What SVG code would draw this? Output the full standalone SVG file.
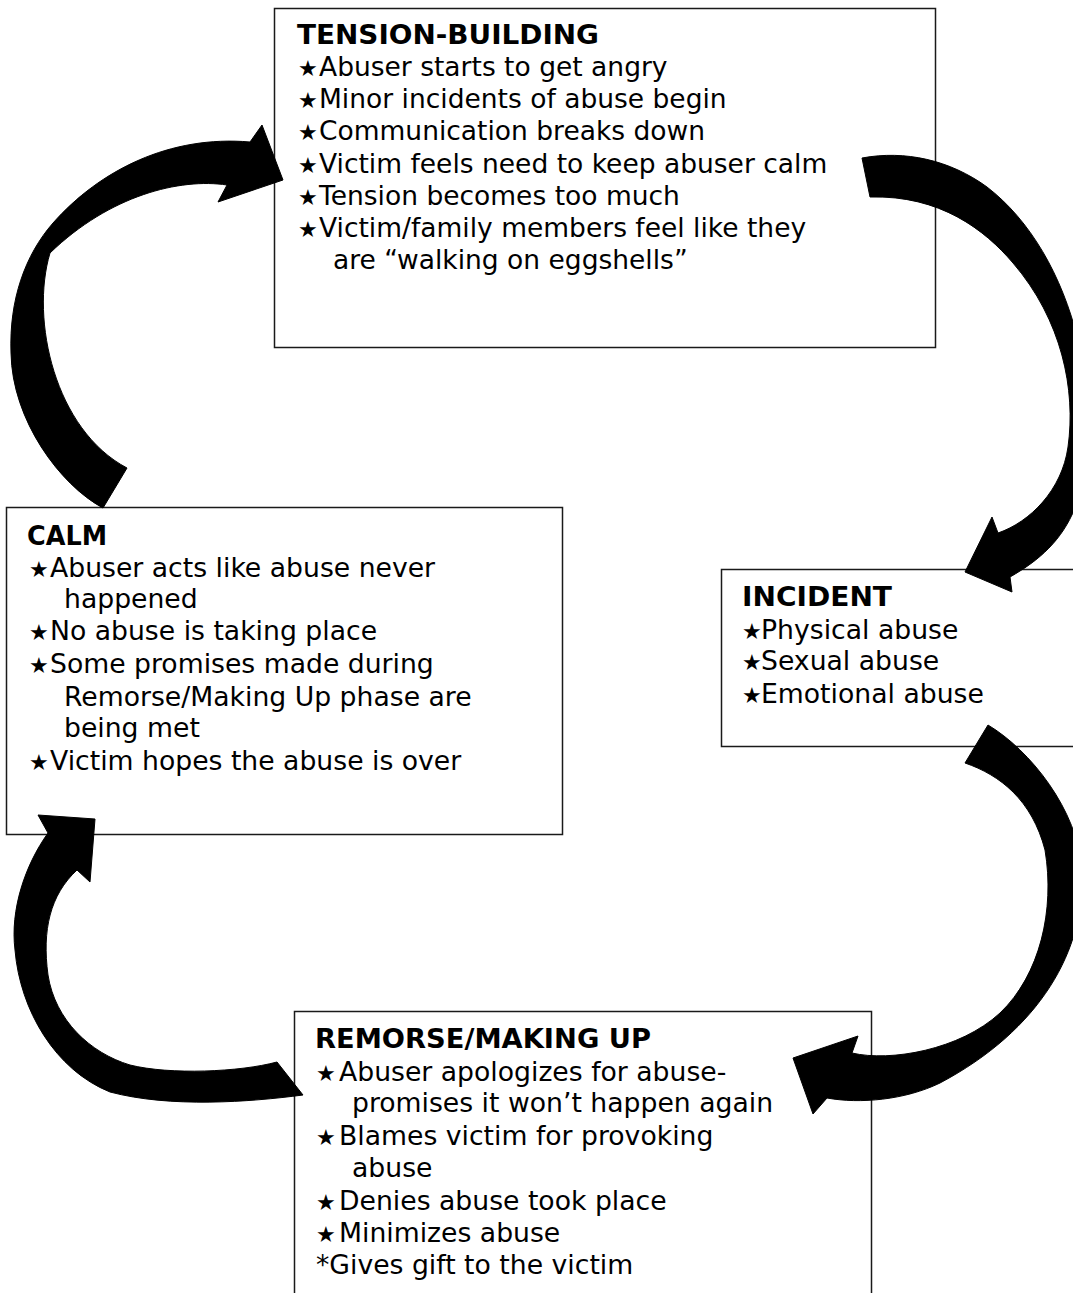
<svg xmlns="http://www.w3.org/2000/svg" width="1073" height="1293" viewBox="0 0 1073 1293">
  <style>
    .box { fill: #ffffff; stroke: #1a1a1a; stroke-width: 1.5; }
    .t { font-family: "DejaVu Sans", Verdana, sans-serif; font-size: 26.67px; fill: #000; }
    .tt { font-size: 26.5px; }
    .h { font-weight: bold; }
    .st { font-family: "DejaVu Sans", sans-serif; font-size: 22px; }
    .arrow { fill: #000; stroke: #000; stroke-width: 1; stroke-linejoin: round; }
  </style>
  <rect x="0" y="0" width="1073" height="1293" fill="#ffffff"/>

  <g id="node-tension">
    <rect class="box" x="274.5" y="8.5" width="661" height="339"/>
    <text class="t tt h" x="297" y="44" textLength="302" lengthAdjust="spacingAndGlyphs">TENSION-BUILDING</text>
    <text class="t tt" y="76"><tspan class="st" x="298">★</tspan><tspan x="319">Abuser starts to get angry</tspan></text>
    <text class="t tt" y="108"><tspan class="st" x="298">★</tspan><tspan x="319">Minor incidents of abuse begin</tspan></text>
    <text class="t tt" y="140"><tspan class="st" x="298">★</tspan><tspan x="319">Communication breaks down</tspan></text>
    <text class="t tt" y="173"><tspan class="st" x="298">★</tspan><tspan x="319">Victim feels need to keep abuser calm</tspan></text>
    <text class="t tt" y="205"><tspan class="st" x="298">★</tspan><tspan x="319">Tension becomes too much</tspan></text>
    <text class="t tt" y="237"><tspan class="st" x="298">★</tspan><tspan x="319">Victim/family members feel like they</tspan></text>
    <text class="t tt" x="333" y="269">are “walking on eggshells”</text>
  </g>

  <g id="node-calm">
    <rect class="box" x="6.5" y="507.5" width="556" height="327"/>
    <text class="t h" x="27" y="545" textLength="80" lengthAdjust="spacingAndGlyphs">CALM</text>
    <text class="t" y="577"><tspan class="st" x="29">★</tspan><tspan x="50">Abuser acts like abuse never</tspan></text>
    <text class="t" x="64" y="608">happened</text>
    <text class="t" y="640"><tspan class="st" x="29">★</tspan><tspan x="50">No abuse is taking place</tspan></text>
    <text class="t" y="673"><tspan class="st" x="29">★</tspan><tspan x="50">Some promises made during</tspan></text>
    <text class="t" x="64" y="706">Remorse/Making Up phase are</text>
    <text class="t" x="64" y="737">being met</text>
    <text class="t" y="770"><tspan class="st" x="29">★</tspan><tspan x="50">Victim hopes the abuse is over</tspan></text>
  </g>

  <g id="node-incident">
    <rect class="box" x="721.5" y="569.5" width="380" height="177"/>
    <text class="t h" x="742" y="606" textLength="150" lengthAdjust="spacingAndGlyphs">INCIDENT</text>
    <text class="t" y="639"><tspan class="st" x="742">★</tspan><tspan x="761">Physical abuse</tspan></text>
    <text class="t" y="670"><tspan class="st" x="742">★</tspan><tspan x="761">Sexual abuse</tspan></text>
    <text class="t" y="703"><tspan class="st" x="742">★</tspan><tspan x="761">Emotional abuse</tspan></text>
  </g>

  <g id="node-remorse">
    <rect class="box" x="294.5" y="1011.5" width="577" height="320"/>
    <text class="t h" x="315" y="1048" textLength="336" lengthAdjust="spacingAndGlyphs">REMORSE/MAKING UP</text>
    <text class="t" y="1081"><tspan class="st" x="316">★</tspan><tspan x="339">Abuser apologizes for abuse-</tspan></text>
    <text class="t" x="352" y="1112">promises it won’t happen again</text>
    <text class="t" y="1145"><tspan class="st" x="316">★</tspan><tspan x="339">Blames victim for provoking</tspan></text>
    <text class="t" x="352" y="1177">abuse</text>
    <text class="t" y="1210"><tspan class="st" x="316">★</tspan><tspan x="339">Denies abuse took place</tspan></text>
    <text class="t" y="1242"><tspan class="st" x="316">★</tspan><tspan x="339">Minimizes abuse</tspan></text>
    <text class="t" x="316" y="1274">*Gives gift to the victim</text>
  </g>

  <g id="connectors">
    <!-- CALM -> TENSION-BUILDING -->
    <path id="arrow-calm-tension" class="arrow" d="M103,508 C60,485 12,420 11,353 C9,300 25,255 53,223 C100,170 170,135 250,142 L262,125 L283,180 L218,202 L227,185 C180,178 110,195 50,253 C30,320 55,430 127,468 Z"/>
    <!-- TENSION-BUILDING -> INCIDENT -->
    <path id="arrow-tension-incident" class="arrow" d="M862,158 C905,150 950,160 987,187 C1030,220 1062,275 1078,340 C1092,400 1088,470 1075,508 C1062,540 1040,560 1010,577 L1012,592 L965,572 L992,517 L998,533 C1030,522 1062,490 1068,447 C1076,390 1062,320 1013,263 C985,230 940,195 870,197 Z"/>
    <!-- INCIDENT -> REMORSE/MAKING UP -->
    <path id="arrow-incident-remorse" class="arrow" d="M988,725 C1030,750 1078,810 1082,870 C1086,950 1040,1030 940,1083 C905,1100 860,1104 827,1098 L813,1114 L793,1058 L858,1036 L852,1053 C890,1062 960,1050 1000,1013 C1040,975 1055,910 1045,850 C1032,800 1000,775 965,763 Z"/>
    <!-- REMORSE/MAKING UP -> CALM -->
    <path id="arrow-remorse-calm" class="arrow" d="M277,1062 C240,1072 170,1075 130,1065 C90,1053 55,1020 48,975 C42,930 50,895 77,870 L90,882 L95,819 L38,815 L48,833 C25,865 10,910 15,950 C20,1010 55,1070 110,1092 C170,1108 250,1102 303,1095 Z"/>
  </g>
</svg>
